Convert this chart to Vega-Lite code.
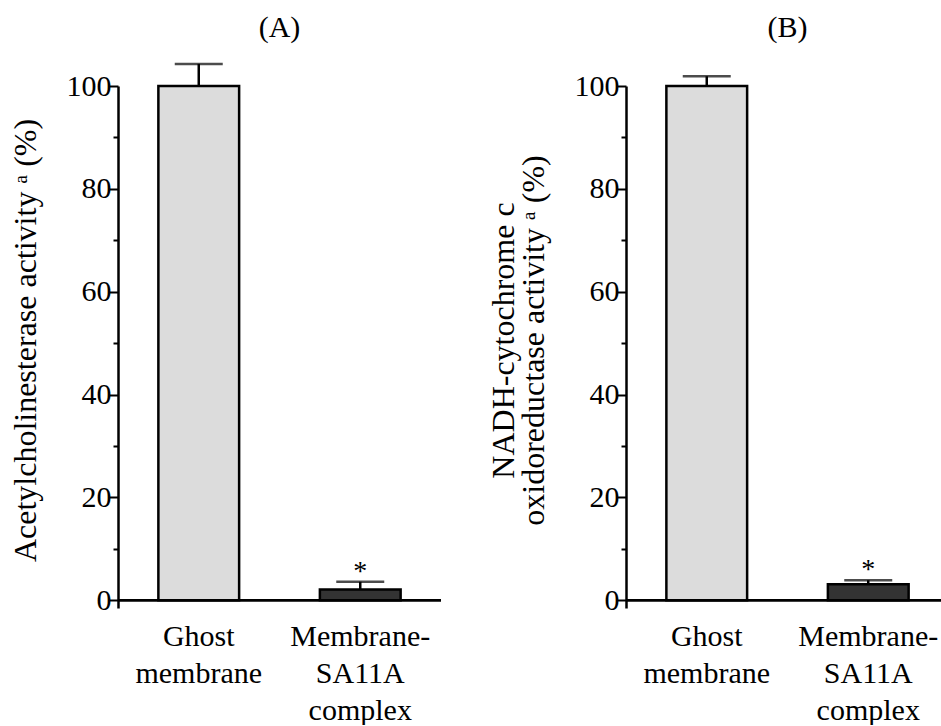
{
  "$schema": "https://vega.github.io/schema/vega-lite/v6.json",
  "padding": {"left": 9, "top": 12, "right": 0, "bottom": 0},
  "background": "white",
  "datasets": {
    "A": [
      {"group": "Ghost membrane", "value": 100, "err": 104.3, "sig": ""},
      {"group": "Membrane-SA11A complex", "value": 2.1, "err": 3.6, "sig": "*"}
    ],
    "B": [
      {"group": "Ghost membrane", "value": 100, "err": 101.9, "sig": ""},
      {"group": "Membrane-SA11A complex", "value": 3.1, "err": 3.9, "sig": "*"}
    ]
  },
  "config": {
    "view": {"stroke": null},
    "concat": {"spacing": 44},
    "font": "Liberation Serif",
    "title": {"font": "Liberation Serif", "fontSize": 30, "fontWeight": "normal", "color": "black", "frame": "group", "anchor": "middle"},
    "axisY": {
      "values": [0, 10, 20, 30, 40, 50, 60, 70, 80, 90, 100],
      "domainColor": "black", "domainWidth": 2.5,
      "tickColor": "black", "tickWidth": 2,
      "tickSize": {"condition": {"test": "datum.value % 20 === 0", "value": 9}, "value": 5},
      "labelExpr": "datum.value % 20 === 0 ? datum.label : ''",
      "labelFont": "Liberation Serif", "labelFontSize": 30, "labelColor": "black", "labelPadding": -2,
      "grid": false,
      "titleFont": "Liberation Serif", "titleFontSize": 32, "titleFontWeight": "normal", "titleColor": "black", "titlePadding": 24, "titleLineHeight": 30, "titleY": 254
    },
    "axisX": {
      "domain": false, "ticks": false, "grid": false, "title": null, "labelAngle": 0,
      "labelFont": "Liberation Serif", "labelFontSize": 30, "labelColor": "black", "labelPadding": 13, "labelLineHeight": 37, "labelBaseline": "top",
      "labelExpr": "datum.label == 'Ghost membrane' ? ['Ghost', 'membrane'] : ['Membrane-', 'SA11A', 'complex']"
    }
  },
  "hconcat": [
    {
      "title": {"text": "(A)", "offset": -3},
      "width": 323,
      "height": 522,
      "data": {"name": "A"},
      "encoding": {
        "x": {"field": "group", "type": "nominal", "sort": null, "scale": {"paddingInner": 0.5, "paddingOuter": 0.25}},
        "y": {"field": "value", "type": "quantitative", "scale": {"domain": [-1.5, 100], "nice": false, "zero": false}, "axis": {"title": "Acetylcholinesterase activity ᵃ (%)"}}
      },
      "layer": [
        {"mark": {"type": "rule", "color": "black", "strokeWidth": 2.5}, "encoding": {"y2": {"field": "err"}}},
        {"mark": {"type": "tick", "color": "black", "size": 48, "thickness": 2.5}, "encoding": {"y": {"field": "err", "type": "quantitative"}}},
        {"mark": {"type": "bar", "stroke": "black", "strokeWidth": 2.5},
         "encoding": {"color": {"field": "group", "type": "nominal", "scale": {"domain": ["Ghost membrane", "Membrane-SA11A complex"], "range": ["#dcdcdc", "#333333"]}, "legend": null}}},
        {"mark": {"type": "text", "fontSize": 28, "baseline": "alphabetic", "dy": -2, "color": "black"}, "encoding": {"y": {"field": "err", "type": "quantitative"}, "text": {"field": "sig"}}},
        {"mark": {"type": "rule", "color": "black", "strokeWidth": 2.5}, "encoding": {"y": {"datum": 0}, "x": null}}
      ]
    },
    {
      "title": {"text": "(B)", "offset": 9},
      "width": 323,
      "height": 522,
      "data": {"name": "B"},
      "encoding": {
        "x": {"field": "group", "type": "nominal", "sort": null, "scale": {"paddingInner": 0.5, "paddingOuter": 0.25}},
        "y": {"field": "value", "type": "quantitative", "scale": {"domain": [-1.5, 100], "nice": false, "zero": false}, "axis": {"title": ["NADH-cytochrome c", "oxidoreductase activity ᵃ (%)"]}}
      },
      "layer": [
        {"mark": {"type": "rule", "color": "black", "strokeWidth": 2.5}, "encoding": {"y2": {"field": "err"}}},
        {"mark": {"type": "tick", "color": "black", "size": 48, "thickness": 2.5}, "encoding": {"y": {"field": "err", "type": "quantitative"}}},
        {"mark": {"type": "bar", "stroke": "black", "strokeWidth": 2.5},
         "encoding": {"color": {"field": "group", "type": "nominal", "scale": {"domain": ["Ghost membrane", "Membrane-SA11A complex"], "range": ["#dcdcdc", "#333333"]}, "legend": null}}},
        {"mark": {"type": "text", "fontSize": 28, "baseline": "alphabetic", "dy": -2, "color": "black"}, "encoding": {"y": {"field": "err", "type": "quantitative"}, "text": {"field": "sig"}}},
        {"mark": {"type": "rule", "color": "black", "strokeWidth": 2.5}, "encoding": {"y": {"datum": 0}, "x": null}}
      ]
    }
  ]
}
